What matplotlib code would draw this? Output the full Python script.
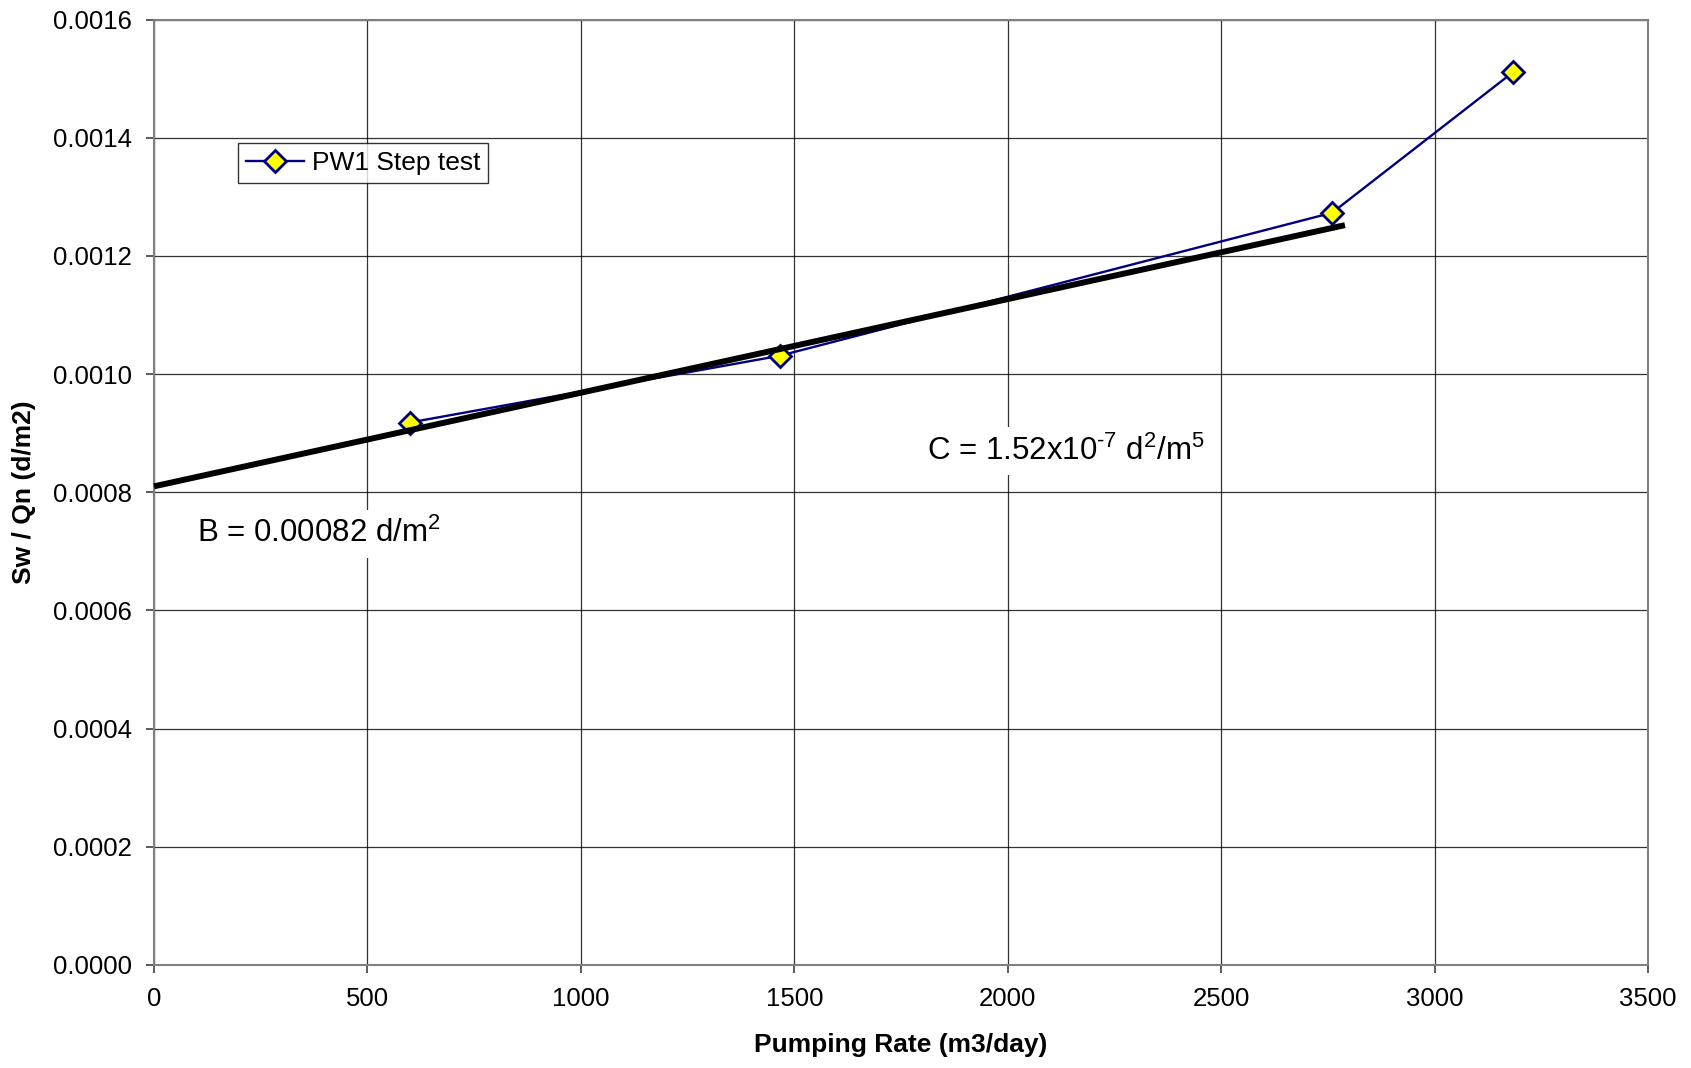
import matplotlib
matplotlib.use("Agg")
import matplotlib.pyplot as plt
import numpy as np

plt.rcParams['font.family'] = ['Liberation Sans', 'DejaVu Sans']
plt.rcParams['mathtext.fontset'] = 'custom'
plt.rcParams['mathtext.rm'] = 'Liberation Sans'
plt.rcParams['mathtext.it'] = 'Liberation Sans'
plt.rcParams['mathtext.default'] = 'regular'

# Data
pumping_rate = [599, 1466, 2760, 3184]
sw_qn = [0.000918, 0.001031, 0.001273, 0.001511]
fit_x = [0, 2790]
fit_y = [0.000810, 0.001252]
series_label = "PW1 Step test"
x_ticks = [0, 500, 1000, 1500, 2000, 2500, 3000, 3500]
y_ticks = [0.0, 0.0002, 0.0004, 0.0006, 0.0008, 0.0010, 0.0012, 0.0014, 0.0016]

fig = plt.figure(figsize=(16.91, 10.68), dpi=100)
ax = fig.add_axes([154/1691, 1 - 965/1068, (1648-154)/1691, (965-19.5)/1068])

ax.set_xlim(0, 3500)
ax.set_ylim(0, 0.0016)
ax.set_xticks(x_ticks)
ax.set_yticks(y_ticks)
ax.set_yticklabels([f"{v:.4f}" for v in y_ticks])
ax.grid(True, color='#000000', linewidth=0.9, alpha=0.8)
ax.set_axisbelow(True)
for s in ax.spines.values():
    s.set_color('#808080')
    s.set_linewidth(1.5)
ax.tick_params(axis='both', labelsize=18.5, direction='out', length=6, width=1.2, color='#404040', pad=10)

line, = ax.plot(pumping_rate, sw_qn, color='#000080', linewidth=1.7, marker='D',
                markersize=11, markerfacecolor='#FFFF00', markeredgecolor='#000080',
                markeredgewidth=2, label=series_label, zorder=3, clip_on=False)
ax.plot(fit_x, fit_y, color='black', linewidth=4.3, zorder=4, solid_capstyle='butt', clip_on=False)

ax.text(2135, 0.000870, r"C = 1.52x10$^{\text{-}7}$ d$^{2}$/m$^{5}$", fontsize=22.5, ha='center', va='center',
        bbox=dict(facecolor='white', edgecolor='none', pad=6), zorder=5)
ax.text(387, 0.000730, r"B = 0.00082 d/m$^{2}$", fontsize=22.5, ha='center', va='center',
        bbox=dict(facecolor='white', edgecolor='none', pad=6), zorder=5)

leg = ax.legend(loc='upper left', bbox_to_anchor=((238-154)/1494, (965-143)/945.5), fontsize=19,
                frameon=True, fancybox=False, edgecolor='black', borderpad=0.3,
                handlelength=2.2, handletextpad=0.3, borderaxespad=0)
leg.get_frame().set_linewidth(1.0)

ax.set_xlabel("Pumping Rate (m3/day)", fontsize=19, fontweight='bold', labelpad=16)
ax.set_ylabel("Sw / Qn (d/m2)", fontsize=19, fontweight='bold', labelpad=12)

fig.savefig("out.png", dpi=100, facecolor='white')
